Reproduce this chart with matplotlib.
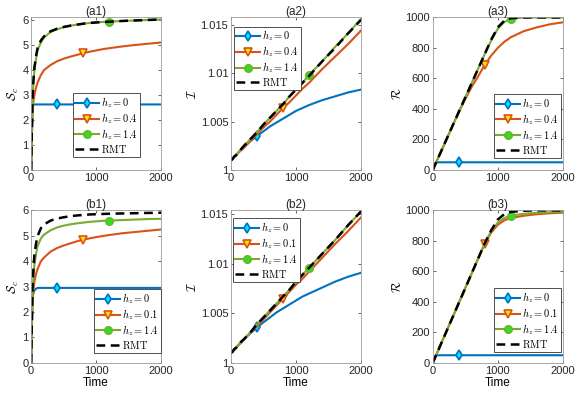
import numpy as np
import matplotlib
matplotlib.use("Agg")
import matplotlib.pyplot as plt
from matplotlib.ticker import FormatStrFormatter

plt.rcParams['mathtext.fontset'] = 'cm'
plt.rcParams['font.family'] = ['Liberation Sans', 'DejaVu Sans']

# --- common time grid ---
t = [0, 10, 20, 30, 50, 75, 100, 150, 200, 300, 400, 500, 600, 700, 800, 900,
     1000, 1100, 1200, 1400, 1600, 1800, 2000]

# --- (a1) S_c ---
a1_h0 = [0, 1.2, 2.3, 2.62, 2.62, 2.62, 2.62, 2.62, 2.62, 2.62, 2.62, 2.62, 2.62,
         2.62, 2.62, 2.62, 2.62, 2.62, 2.62, 2.62, 2.62, 2.62, 2.62]
a1_h1 = [0, 1.2, 2.3, 2.65, 3.0, 3.3, 3.5, 3.8, 4.0, 4.2, 4.35, 4.45, 4.53, 4.6,
         4.67, 4.73, 4.78, 4.83, 4.87, 4.94, 5.0, 5.05, 5.1]
a1_h2 = [0, 1.4, 2.6, 3.3, 4.0, 4.45, 4.8, 5.1, 5.3, 5.52, 5.63, 5.71, 5.77, 5.81,
         5.85, 5.88, 5.9, 5.92, 5.93, 5.96, 5.98, 6.0, 6.02]
a1_rmt = [0, 1.5, 2.7, 3.4, 4.1, 4.55, 4.9, 5.18, 5.35, 5.55, 5.65, 5.72, 5.77, 5.81,
          5.85, 5.88, 5.9, 5.92, 5.93, 5.96, 5.98, 6.0, 6.02]

# --- (b1) S_c ---
b1_h0 = [0, 1.3, 2.4, 2.7, 2.85, 2.92, 2.95, 2.95, 2.95, 2.95, 2.95, 2.95, 2.95,
         2.95, 2.95, 2.95, 2.95, 2.95, 2.95, 2.95, 2.95, 2.95, 2.95]
b1_h1 = [0, 1.3, 2.4, 2.8, 3.2, 3.5, 3.7, 4.0, 4.15, 4.38, 4.52, 4.62, 4.7, 4.78,
         4.85, 4.9, 4.95, 4.99, 5.03, 5.1, 5.15, 5.2, 5.25]
b1_h2 = [0, 1.4, 2.6, 3.2, 3.85, 4.3, 4.6, 4.9, 5.05, 5.22, 5.33, 5.4, 5.45, 5.49,
         5.52, 5.55, 5.57, 5.59, 5.6, 5.62, 5.64, 5.66, 5.67]
b1_rmt = [0, 1.5, 2.8, 3.5, 4.25, 4.7, 5.0, 5.3, 5.45, 5.6, 5.68, 5.73, 5.77, 5.8,
          5.82, 5.84, 5.85, 5.86, 5.87, 5.88, 5.89, 5.9, 5.91]

# --- (a2) I ---
a2_h0 = [1.0010, 1.0011, 1.0011, 1.0012, 1.0014, 1.0015, 1.0017, 1.0021, 1.0024,
         1.0030, 1.0035, 1.0040, 1.0045, 1.0049, 1.0053, 1.0057, 1.0061, 1.0064,
         1.0067, 1.0072, 1.0076, 1.0080, 1.0083]
a2_h1 = [1.0010, 1.0011, 1.0011, 1.0012, 1.0013, 1.0015, 1.0017, 1.0020, 1.0023,
         1.0030, 1.0037, 1.0044, 1.0050, 1.0057, 1.0064, 1.0070, 1.0077, 1.0084,
         1.0090, 1.0104, 1.0117, 1.0130, 1.0144]
a2_h2 = [1.0010, 1.0011, 1.0011, 1.0012, 1.0014, 1.0015, 1.0017, 1.0021, 1.0025,
         1.0032, 1.0039, 1.0047, 1.0054, 1.0061, 1.0068, 1.0076, 1.0083, 1.0090,
         1.0098, 1.0112, 1.0127, 1.0141, 1.0156]
a2_rmt = [1.0010, 1.0011, 1.0011, 1.0012, 1.0014, 1.0015, 1.0017, 1.0021, 1.0025,
          1.0032, 1.0039, 1.0047, 1.0054, 1.0061, 1.0068, 1.0076, 1.0083, 1.0090,
          1.0097, 1.0112, 1.0126, 1.0141, 1.0155]

# --- (b2) I ---
b2_h0 = [1.0010, 1.0011, 1.0011, 1.0012, 1.0014, 1.0015, 1.0017, 1.0021, 1.0024,
         1.0030, 1.0036, 1.0041, 1.0046, 1.0051, 1.0055, 1.0059, 1.0063, 1.0067,
         1.0070, 1.0076, 1.0082, 1.0087, 1.0091]
b2_h1 = [1.0010, 1.0011, 1.0011, 1.0012, 1.0013, 1.0015, 1.0017, 1.0020, 1.0024,
         1.0031, 1.0037, 1.0044, 1.0051, 1.0058, 1.0065, 1.0072, 1.0079, 1.0085,
         1.0092, 1.0106, 1.0120, 1.0133, 1.0147]
b2_h2 = [1.0010, 1.0011, 1.0011, 1.0012, 1.0014, 1.0015, 1.0017, 1.0021, 1.0024,
         1.0031, 1.0039, 1.0046, 1.0053, 1.0060, 1.0067, 1.0074, 1.0082, 1.0089,
         1.0096, 1.0110, 1.0124, 1.0139, 1.0153]
b2_rmt = [1.0010, 1.0011, 1.0011, 1.0012, 1.0014, 1.0015, 1.0017, 1.0021, 1.0024,
          1.0031, 1.0039, 1.0046, 1.0053, 1.0060, 1.0067, 1.0074, 1.0082, 1.0089,
          1.0096, 1.0110, 1.0124, 1.0139, 1.0153]

# --- (a3) R ---
a3_h0 = [0, 10, 20, 30, 50, 50, 50, 50, 50, 50, 50, 50, 50, 50, 50, 50, 50, 50,
         50, 50, 50, 50, 50]
a3_h1 = [0, 9, 19, 28, 47, 71, 95, 142, 190, 285, 378, 465, 545, 615, 690, 750,
         800, 840, 870, 910, 935, 955, 968]
a3_h2 = [0, 9, 19, 28, 47, 71, 95, 142, 190, 285, 380, 475, 570, 665, 760, 850,
         925, 970, 990, 1000, 1000, 1000, 1000]
a3_rmt = [0, 9, 19, 28, 47, 71, 95, 142, 190, 285, 380, 475, 570, 665, 760, 855,
          935, 978, 995, 1000, 1000, 1000, 1000]

# --- (b3) R ---
b3_h0 = [0, 10, 20, 30, 50, 50, 50, 50, 50, 50, 50, 50, 50, 50, 50, 50, 50, 50,
         50, 50, 50, 50, 50]
b3_h1 = [0, 10, 20, 29, 49, 73, 98, 147, 196, 294, 392, 490, 588, 686, 781, 855,
         905, 935, 950, 965, 975, 981, 985]
b3_h2 = [0, 10, 20, 29, 49, 73, 98, 147, 196, 294, 392, 490, 588, 686, 784, 865,
         920, 950, 965, 978, 984, 988, 990]
b3_rmt = [0, 10, 20, 29, 49, 73, 98, 147, 196, 294, 392, 490, 588, 686, 784, 870,
          940, 975, 990, 998, 1000, 1000, 1000]

labels_a = [r'$h_z=0$', r'$h_z=0.4$', r'$h_z=1.4$', r'$\mathrm{RMT}$']
labels_b = [r'$h_z=0$', r'$h_z=0.1$', r'$h_z=1.4$', r'$\mathrm{RMT}$']

# MATLAB-like colours
c_blue, c_orange, c_green = '#0072BD', '#D95319', '#77AC30'
styles = [
    dict(color=c_blue, marker='d', mfc='#00E5FF', mec=c_blue, ms=5.5, mew=1.2),
    dict(color=c_orange, marker='v', mfc='#FFE600', mec=c_orange, ms=6, mew=1.2),
    dict(color=c_green, marker='o', mfc='#33DD22', mec=c_green, ms=5.5, mew=1.0),
]
mark_times = [400, 800, 1200]

# title, data, labels, ylabel, legend loc, legend anchor, ylim, yticks
panels = [
    ('(a1)', [a1_h0, a1_h1, a1_h2, a1_rmt], labels_a, r'$\mathcal{S}_c$', 'lower right', (0.84, 0.085), (0, 6.1), [0, 1, 2, 3, 4, 5, 6]),
    ('(a2)', [a2_h0, a2_h1, a2_h2, a2_rmt], labels_a, r'$\mathcal{I}$', 'upper left', (0.02, 0.94), (1, 1.01575), [1, 1.005, 1.01, 1.015]),
    ('(a3)', [a3_h0, a3_h1, a3_h2, a3_rmt], labels_a, r'$\mathcal{R}$', 'lower right', (0.985, 0.08), (0, 1000), [0, 200, 400, 600, 800, 1000]),
    ('(b1)', [b1_h0, b1_h1, b1_h2, b1_rmt], labels_b, r'$\mathcal{S}_c$', 'lower right', (1.0, 0.065), (0, 6), [0, 1, 2, 3, 4, 5, 6]),
    ('(b2)', [b2_h0, b2_h1, b2_h2, b2_rmt], labels_b, r'$\mathcal{I}$', 'upper left', (0.015, 0.948), (1, 1.0154), [1, 1.005, 1.01, 1.015]),
    ('(b3)', [b3_h0, b3_h1, b3_h2, b3_rmt], labels_b, r'$\mathcal{R}$', 'lower right', (0.985, 0.072), (0, 1000), [0, 200, 400, 600, 800, 1000]),
]

fig = plt.figure(figsize=(5.88, 3.97), dpi=100)
lefts = [0.053, 0.393, 0.736]
bottoms = [0.572, 0.086]
w, h = 0.221, 0.384

for k, (title, series, labels, ylabel, loc, anchor, ylim, yticks) in enumerate(panels):
    ax = fig.add_axes([lefts[k % 3], bottoms[k // 3], w, h])
    for s, st, mt, lab in zip(series[:3], styles, mark_times, labels[:3]):
        ax.plot(t, s, lw=1.5, markevery=[t.index(mt)], label=lab, **st)
    ax.plot(t, series[3], color='k', ls=(0, (3.5, 2.2)), lw=1.8, label=labels[3])

    ax.set_xlim(0, 2000)
    ax.set_ylim(*ylim)
    ax.set_xticks([0, 1000, 2000])
    ax.set_yticks(yticks)
    if k % 3 == 1:
        ax.yaxis.set_major_formatter(FormatStrFormatter('%g'))
    ax.set_title(title, fontsize=8.5, pad=2, color='#222222')
    ax.set_ylabel(ylabel, fontsize=9, labelpad=1)
    if k >= 3:
        ax.set_xlabel('Time', fontsize=8.5, labelpad=1)
    ax.tick_params(direction='in', length=2.5, width=0.5, labelsize=8,
                   colors='#262626', pad=2, top=True, right=True)
    for sp in ax.spines.values():
        sp.set_color('#9a9a9a')
        sp.set_linewidth(0.6)

    leg = ax.legend(loc=loc, bbox_to_anchor=anchor, fontsize=7.5, handlelength=2.3,
                    handletextpad=0.2, borderpad=0.2, labelspacing=0.1,
                    borderaxespad=0, fancybox=False, framealpha=1,
                    edgecolor='#333333')
    leg.get_frame().set_linewidth(0.6)

fig.savefig('out.png', dpi=100)
